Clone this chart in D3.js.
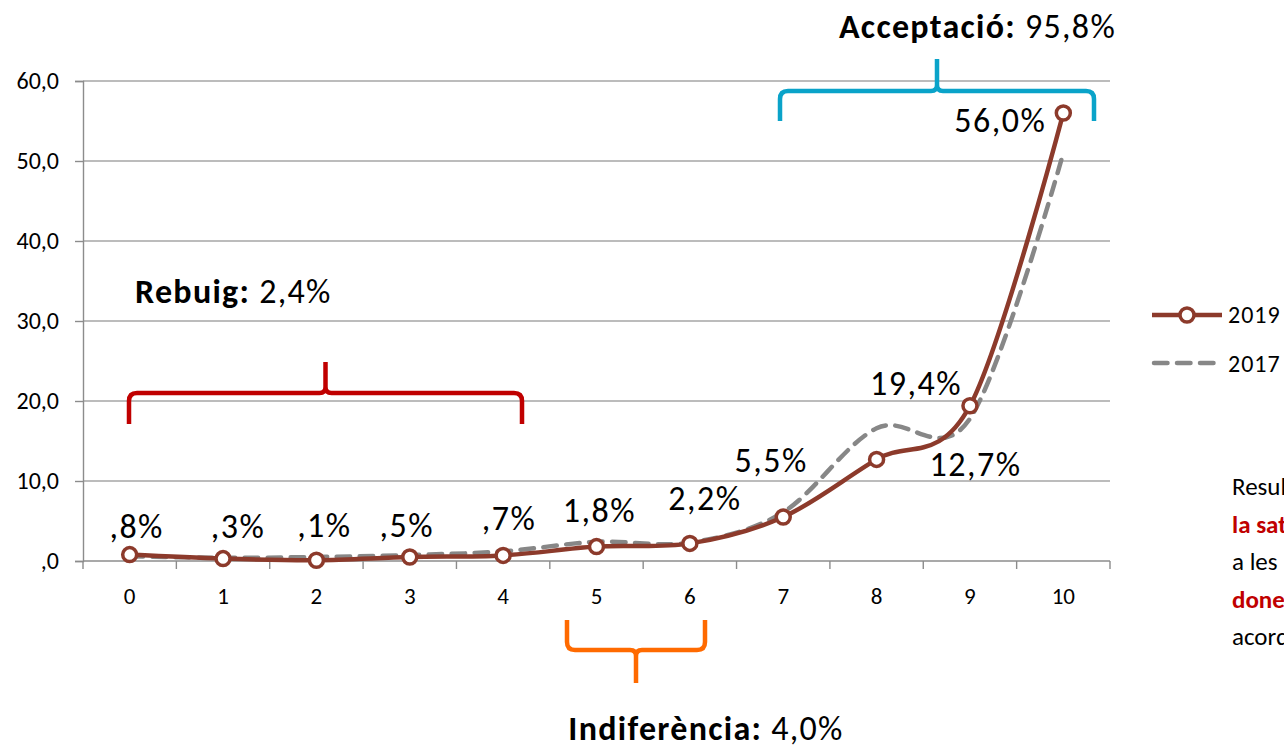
<!DOCTYPE html>
<html><head><meta charset="utf-8">
<script src="https://cdn.jsdelivr.net/npm/d3@7"></script>
<style>
body{margin:0;background:#fff;overflow:hidden}
svg{display:block;font-family:Carlito,Lato,"Open Sans",sans-serif}
</style></head><body>
<svg id="c" width="1284" height="746"></svg>
<script>
const categories = ["0","1","2","3","4","5","6","7","8","9","10"];
const values2019 = [0.8,0.3,0.1,0.5,0.7,1.8,2.2,5.5,12.7,19.4,56.0];
const values2017 = [0.6,0.4,0.5,0.75,1.2,2.4,2.3,6.1,16.6,17.8,51.0];
const labels2019 = [",8%",",3%",",1%",",5%",",7%","1,8%","2,2%","5,5%","12,7%","19,4%","56,0%"];
const yTicks = [0,10,20,30,40,50,60];
const yTickLabels = [",0","10,0","20,0","30,0","40,0","50,0","60,0"];
const seriesNames = ["2019","2017"];
// label placement offsets from each point: [dx, dy, anchor]
const labelPos = [[7,-17,"middle"],[15,-21,"middle"],[8,-23,"middle"],[-3,-20,"middle"],[6,-25,"middle"],[3,-25,"middle"],[15,-33,"middle"],[-12,-45,"middle"],[99,17,"middle"],[-54,-11,"middle"],[-17,19,"end"]];

const svg = d3.select("#c");
const x = d3.scalePoint().domain(categories).range([83,1110]).padding(0.5);
const y = d3.scaleLinear().domain([0,60]).range([561,81]);
const xBand = d3.scaleBand().domain(categories).range([83,1110]);

// gridlines
svg.append("g").selectAll("line").data(yTicks.filter(d=>d>0)).join("line")
  .attr("x1",83).attr("x2",1110).attr("y1",d=>y(d)).attr("y2",d=>y(d))
  .attr("stroke","#a6a6a6").attr("stroke-width",1.4);

// y axis
const yAxis = d3.axisLeft(y).tickValues(yTicks).tickSize(8).tickFormat((d,i)=>yTickLabels[i]);
const gy = svg.append("g").attr("transform","translate(83,0)").call(yAxis);
gy.select(".domain").attr("stroke","#8c8c8c").attr("stroke-width",1.4);
gy.selectAll(".tick line").attr("stroke","#8c8c8c").attr("stroke-width",1.4);
gy.selectAll(".tick text").attr("font-size",24).attr("fill","#000").attr("x",-24)
  .attr("font-family","Carlito,Lato,sans-serif");

// x axis
const gx = svg.append("g").attr("transform","translate(0,561)");
gx.append("line").attr("x1",83).attr("x2",1110).attr("stroke","#8c8c8c").attr("stroke-width",1.4);
gx.selectAll("line.t").data(d3.range(categories.length+1)).join("line").attr("class","t")
  .attr("x1",i=>83+i*xBand.step()).attr("x2",i=>83+i*xBand.step())
  .attr("y1",0).attr("y2",8).attr("stroke","#8c8c8c").attr("stroke-width",1.4);
gx.selectAll("text").data(categories).join("text")
  .attr("x",d=>x(d)).attr("y",43).attr("text-anchor","middle")
  .attr("font-size",23).attr("fill","#000").text(d=>d);

const curve = d3.curveCatmullRom.alpha(0);
const line = d3.line().x((d,i)=>x(categories[i])).y(d=>y(d)).curve(curve);

svg.append("path").datum(values2017).attr("d",line).attr("fill","none")
  .attr("stroke","#878787").attr("stroke-width",4.5).attr("stroke-dasharray","13.5,9.5").attr("stroke-linecap","round");
svg.append("path").datum(values2019).attr("d",line).attr("fill","none")
  .attr("stroke","#8c3a2b").attr("stroke-width",4.5);
svg.append("g").selectAll("circle").data(values2019).join("circle")
  .attr("cx",(d,i)=>x(categories[i])).attr("cy",d=>y(d)).attr("r",7)
  .attr("fill","#fff").attr("stroke","#8c3a2b").attr("stroke-width",3.5);

// data labels
svg.append("g").selectAll("text").data(values2019).join("text")
  .attr("x",(d,i)=>x(categories[i])+labelPos[i][0])
  .attr("y",(d,i)=>y(d)+labelPos[i][1])
  .attr("text-anchor",(d,i)=>labelPos[i][2])
  .attr("font-size",34).attr("letter-spacing",1.5).attr("fill","#000")
  .text((d,i)=>labels2019[i]);

// brackets
function bracket(x1,x2,yh,tipY,endY,color){
  const m=(x1+x2)/2, r=8, s=Math.sign(endY-yh), t=Math.sign(tipY-yh);
  const p = `M${x1},${endY} L${x1},${yh+s*r} Q${x1},${yh} ${x1+r},${yh} L${m-6},${yh} Q${m},${yh} ${m},${yh+t*6} L${m},${tipY} M${m},${yh+t*6} Q${m},${yh} ${m+6},${yh} L${x2-r},${yh} Q${x2},${yh} ${x2},${yh+s*r} L${x2},${endY}`;
  svg.append("path").attr("d",p).attr("fill","none").attr("stroke",color).attr("stroke-width",4.5).attr("stroke-linecap","butt");
}
bracket(129,522,393,362,424,"#c00000");
bracket(780,1094,91,59,121,"#0aa3c9");
bracket(567,705,650,683,620,"#ff6a00");

function annot(xp,yp,anchor,bold,rest){
  const t=svg.append("text").attr("x",xp).attr("y",yp).attr("text-anchor",anchor)
    .attr("font-size",34).attr("letter-spacing",1.3).attr("fill","#000");
  t.append("tspan").attr("font-weight","bold").text(bold);
  t.append("tspan").text(rest);
}
annot(135,303,"start","Rebuig:"," 2,4%");
annot(1116,38,"end","Acceptació:"," 95,8%");
annot(706,740,"middle","Indiferència:"," 4,0%");

// legend
const lg = svg.append("g");
lg.append("line").attr("x1",1152).attr("x2",1222).attr("y1",315).attr("y2",315).attr("stroke","#8c3a2b").attr("stroke-width",4.5);
lg.append("circle").attr("cx",1187).attr("cy",315).attr("r",7).attr("fill","#fff").attr("stroke","#8c3a2b").attr("stroke-width",3.5);
lg.append("line").attr("x1",1154).attr("x2",1213.5).attr("y1",363).attr("y2",363).attr("stroke","#878787").attr("stroke-width",4.5).attr("stroke-dasharray","13.5,9.5").attr("stroke-linecap","round");
lg.selectAll("text").data(seriesNames).join("text").attr("x",1228).attr("y",(d,i)=>323+i*49)
  .attr("font-size",24).attr("letter-spacing",1).attr("fill","#000").text(d=>d);

// side note (cut off at the page edge as in the reference)
const note=[["Resultats de la valoració","normal","#000"],["la satisfacció general","bold","#c00000"],["a les persones usuàries","normal","#000"],["donen la seva","bold","#c00000"],["acord","normal","#000"]];
svg.append("g").selectAll("text").data(note).join("text")
  .attr("x",1232).attr("y",(d,i)=>495+i*37.5).attr("font-size",25)
  .attr("font-weight",d=>d[1]).attr("fill",d=>d[2]).text(d=>d[0]);
</script>
</body></html>
